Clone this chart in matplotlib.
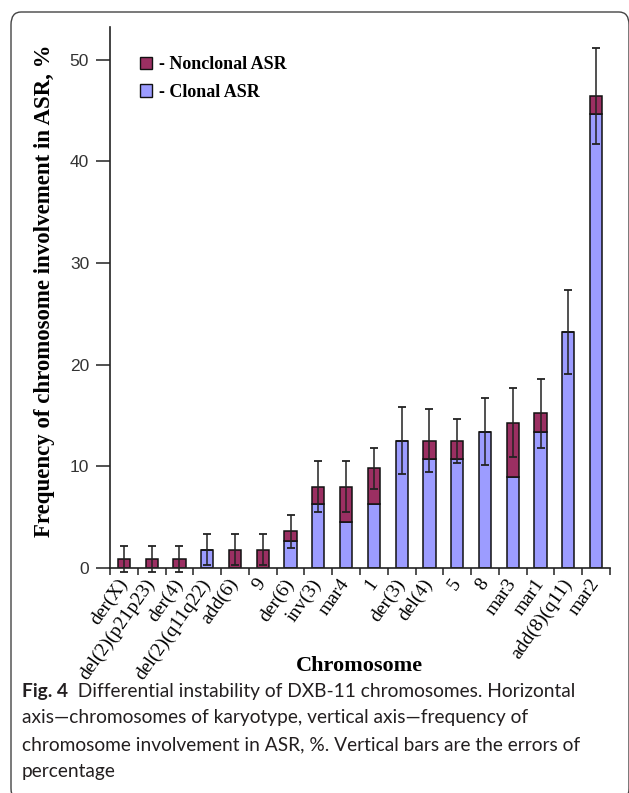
import numpy as np
import matplotlib.pyplot as plt
from matplotlib.patches import FancyBboxPatch, Patch

# Chromosomes of DXB-11 karyotype (x axis)
chromosomes = ['der(X)', 'del(2)(p21p23)', 'der(4)', 'del(2)(q11q22)', 'add(6)', '9',
               'der(6)', 'inv(3)', 'mar4', '1', 'der(3)', 'del(4)', '5', '8',
               'mar3', 'mar1', 'add(8)(q11)', 'mar2']

# Frequency of involvement in ASR, %
clonal = [0, 0, 0, 1.8, 0, 0, 2.7, 6.3, 4.5, 6.3, 12.5, 10.7, 10.7, 13.4, 8.9, 13.4, 23.2, 44.6]
nonclonal = [0.9, 0.9, 0.9, 0, 1.8, 1.8, 0.9, 1.7, 3.5, 3.5, 0, 1.8, 1.8, 0, 5.4, 1.8, 0, 1.8]
errors = [1.3, 1.3, 1.3, 1.5, 1.5, 1.5, 1.6, 2.5, 2.5, 2.0, 3.3, 3.1, 2.15, 3.3, 3.4, 3.4, 4.1, 4.7]

yticks = [0, 10, 20, 30, 40, 50]

nonclonal_color = '#9b2f62'
clonal_color = '#9c9cff'

W, H = 629, 793
fig = plt.figure(figsize=(W / 100, H / 100), dpi=100)
ax = fig.add_axes([110 / W, 1 - 568 / H, 500 / W, 541 / H])

x = np.arange(len(chromosomes))
totals = np.array(clonal) + np.array(nonclonal)
bar_w = 0.44

ax.bar(x, clonal, bar_w, color=clonal_color, edgecolor='#111111', linewidth=1.1, zorder=2)
ax.bar(x, nonclonal, bar_w, bottom=clonal, color=nonclonal_color, edgecolor='#111111',
       linewidth=1.1, zorder=2)
ax.errorbar(x, totals, yerr=errors, fmt='none', ecolor='#222222', elinewidth=1.1,
            capsize=3.0, capthick=1.3, zorder=3, clip_on=False)

ax.set_xlim(-0.5, len(chromosomes) - 0.5)
ax.set_ylim(0, 53.2)

# ticks between categories, labels at bar centres
ax.set_xticks(np.arange(-0.5, len(chromosomes), 1.0))
ax.set_xticklabels([])
ax.set_xticks(x, minor=True)
ax.set_xticklabels(chromosomes, minor=True, rotation=55, ha='right', va='center',
                   rotation_mode='anchor', fontsize=14, family='Liberation Serif')
ax.tick_params(axis='x', which='major', length=5, width=1.1, direction='out', color='#222222')
ax.tick_params(axis='x', which='minor', length=0, pad=9)

ax.set_yticks(yticks)
ax.tick_params(axis='y', length=10, width=1.1, pad=5, labelsize=12.5, labelcolor='#333333',
               color='#222222')
for lab in ax.get_yticklabels():
    lab.set_family('Liberation Sans')

for side in ['top', 'right']:
    ax.spines[side].set_visible(False)
for side in ['left', 'bottom']:
    ax.spines[side].set_linewidth(1.2)
    ax.spines[side].set_color('#222222')

# legend
handles = [Patch(facecolor=nonclonal_color, edgecolor='#111111', linewidth=1.0, label='- Nonclonal ASR'),
           Patch(facecolor=clonal_color, edgecolor='#111111', linewidth=1.0, label='- Clonal ASR')]
ax.legend(handles=handles, loc='upper left', bbox_to_anchor=(140 / W, 1 - 56 / H),
          bbox_transform=fig.transFigure, frameon=False, borderpad=0, borderaxespad=0,
          handlelength=0.66, handleheight=0.66, handletextpad=0.4, labelspacing=0.6,
          prop={'family': 'Liberation Serif', 'weight': 'bold', 'size': 13})

fig.text(45 / W, 1 - 291 / H, 'Frequency of chromosome involvement in ASR, %', rotation=90,
         ha='center', va='center', fontsize=16.5, fontweight='bold', family='Liberation Serif')
fig.text(359 / W, 1 - 666 / H, 'Chromosome', ha='center', va='center', fontsize=16,
         fontweight='bold', family='Liberation Serif')

# caption
cap_color = '#231f20'
cap_font = 'Lato'
cap_size = 13.8
t1 = fig.text(22 / W, 1 - 691 / H, 'Fig. 4', ha='left', va='center', fontsize=cap_size,
              fontweight='bold', family=cap_font, color=cap_color)
ax.annotate('  Differential instability of DXB-11 chromosomes. Horizontal', xy=(1, 0.5),
            xycoords=t1, ha='left', va='center', fontsize=cap_size, family=cap_font,
            color=cap_color, annotation_clip=False)
caption_lines = ['axis\u2014chromosomes of karyotype, vertical axis\u2014frequency of',
                 'chromosome involvement in ASR, %. Vertical bars are the errors of',
                 'percentage']
for i, line in enumerate(caption_lines):
    fig.text(22 / W, 1 - (718 + 27 * i) / H, line, ha='left', va='center', fontsize=cap_size,
             family=cap_font, color=cap_color)

# rounded frame around the figure
frame = FancyBboxPatch((11 / W, -8 / H), 618 / W, (781 + 8) / H,
                       boxstyle='round,pad=0,rounding_size=0.016', transform=fig.transFigure,
                       facecolor='none', edgecolor='#444444', linewidth=1.0, clip_on=False)
fig.add_artist(frame)

plt.savefig('out.png', dpi=100)
